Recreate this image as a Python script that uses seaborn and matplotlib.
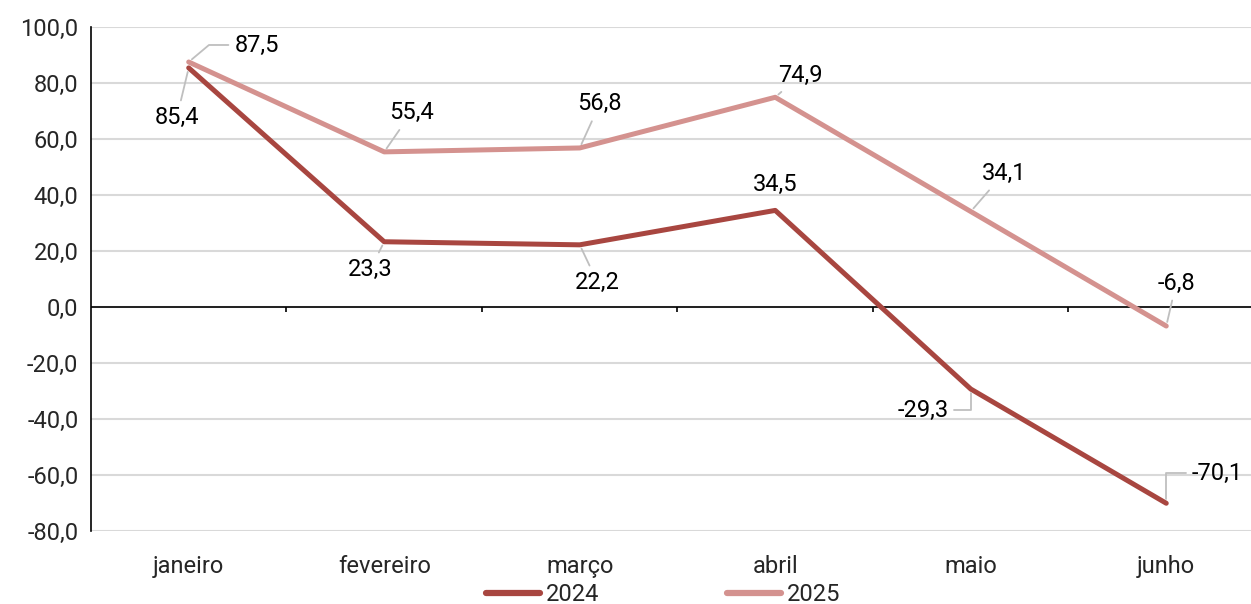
import matplotlib
matplotlib.use("Agg")
import matplotlib.pyplot as plt
import seaborn as sns
import pandas as pd

months = ["janeiro", "fevereiro", "março", "abril", "maio", "junho"]
vals_2024 = [85.4, 23.3, 22.2, 34.5, -29.3, -70.1]
vals_2025 = [87.5, 55.4, 56.8, 74.9, 34.1, -6.8]
years = ["2024", "2025"]
colors = {"2024": "#A84640", "2025": "#D4928F"}

# label offsets in pixels (dx, dy) and leader style
off_2024 = [(-12, -50), (-14, -28), (18, -38), (0, 26), (-48, -21), (51, 30)]
off_2025 = [(68, 17), (27, 39), (20, 44), (25, 22), (33, 38), (10, 43)]
lead_2024 = ["arc3", "arc3", "arc3", None, "angle,angleA=0,angleB=90,rad=0", "angle,angleA=0,angleB=90,rad=0"]
lead_2025 = ["angle,angleA=0,angleB=40,rad=0", "arc3", "arc3", "arc3", "arc3", "arc3"]

sns.set_style("white")
plt.rcParams["font.family"] = ["Roboto", "DejaVu Sans"]
FS = 17

df = pd.DataFrame({
    "x": list(range(len(months))) * 2,
    "valor": vals_2024 + vals_2025,
    "ano": [years[0]] * len(months) + [years[1]] * len(months),
})

fig = plt.figure(figsize=(12.51, 6.04), dpi=100)
ax = fig.add_axes([0.0727, 0.1209, 0.9377, 0.8344])

sns.lineplot(data=df, x="x", y="valor", hue="ano", palette=colors, linewidth=3.6,
             sort=False, ax=ax, legend=True)

ax.set_xlim(-0.5, len(months) - 0.5)
ax.set_ylim(-80, 100)
ax.set_yticks(range(-80, 101, 20))
ax.set_yticklabels([f"{v:.1f}".replace(".", ",") for v in range(-80, 101, 20)], fontsize=FS)
ax.set_xticks(range(len(months)))
ax.set_xticklabels(months, fontsize=FS)
ax.tick_params(axis="x", length=0, pad=17)
ax.tick_params(axis="y", length=5, width=1, color="black", direction="out", pad=4)
ax.set_xlabel("")
ax.set_ylabel("")
ax.grid(axis="y", color="#D9D9D9", linewidth=1.5)
ax.set_axisbelow(True)
for s in ["top", "right", "bottom"]:
    ax.spines[s].set_visible(False)
ax.spines["left"].set_color("black")
ax.spines["left"].set_linewidth(1.2)
ax.axhline(0, color="black", linewidth=1.2, zorder=1.5)
ax.vlines([i + 0.5 for i in range(len(months) - 1)], -1.9, 0, color="black", linewidth=1.2)

for vals, offs, leads in [(vals_2024, off_2024, lead_2024), (vals_2025, off_2025, lead_2025)]:
    for i, (v, (dx, dy), ld) in enumerate(zip(vals, offs, leads)):
        kw = {}
        if ld is not None:
            kw["arrowprops"] = dict(arrowstyle="-", color="#BFBFBF", lw=1.3,
                                    connectionstyle=ld, shrinkA=2, shrinkB=3)
        ax.annotate(f"{v:.1f}".replace(".", ","), xy=(i, v), xytext=(dx, dy),
                    textcoords="offset pixels", ha="center", va="center",
                    fontsize=FS, color="black", **kw)

leg = ax.legend(loc="center", bbox_to_anchor=(0.53, 0.0155), bbox_transform=fig.transFigure,
                ncol=2, frameon=False, fontsize=FS, handlelength=2.3, handletextpad=0.25,
                columnspacing=5.4, borderpad=0.1)
for line in leg.get_lines():
    line.set_linewidth(4.5)

fig.savefig("out.png", dpi=100)
